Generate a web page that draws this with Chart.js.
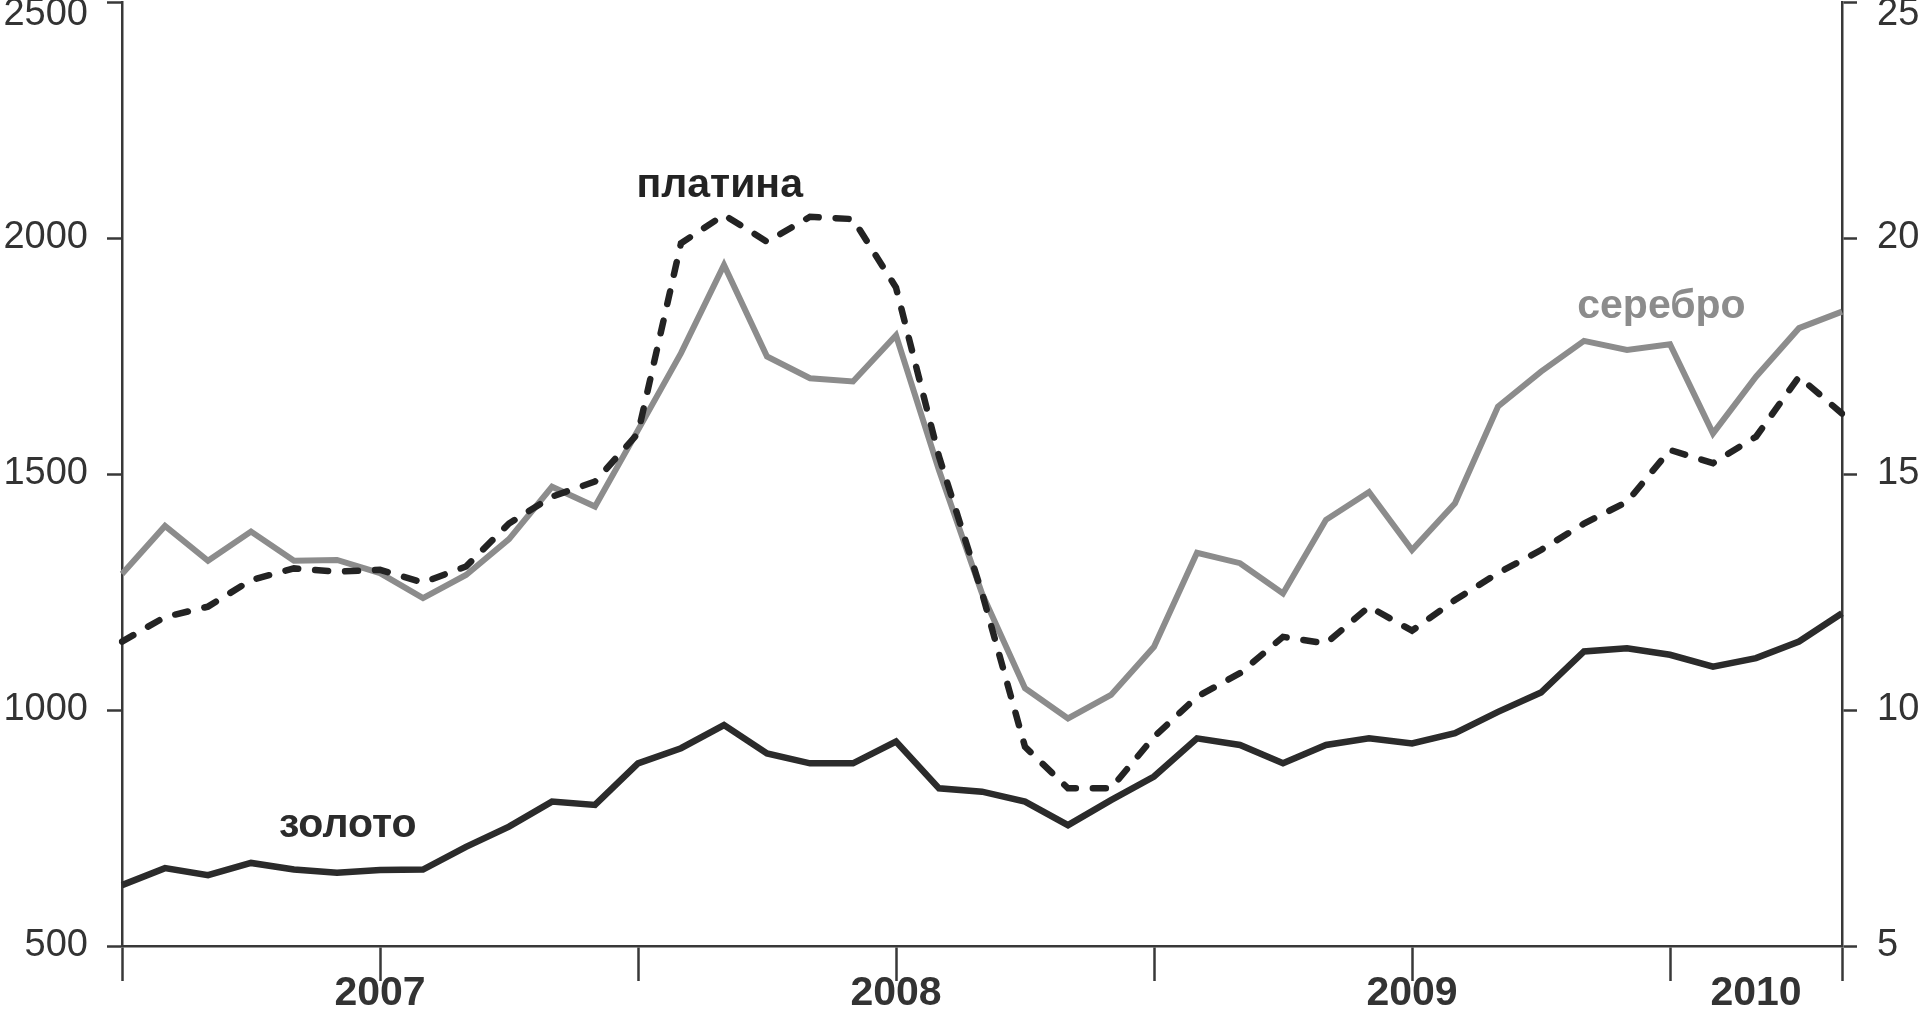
<!DOCTYPE html>
<html>
<head>
<meta charset="utf-8">
<script src="https://cdn.jsdelivr.net/npm/chart.js@4.4.1/dist/chart.umd.min.js"></script>
<style>
  html, body { margin: 0; padding: 0; background: #fff; }
  #wrap { width: 1920px; height: 1012px; position: relative; }
</style>
</head>
<body>
<div id="wrap"><canvas id="chart"></canvas></div>
<script>
// monthly averages, Jan 2007 - May 2010
const months = [
    "2007-01", "2007-02", "2007-03", "2007-04", "2007-05", "2007-06", "2007-07", "2007-08", "2007-09", "2007-10", "2007-11", "2007-12",
    "2008-01", "2008-02", "2008-03", "2008-04", "2008-05", "2008-06", "2008-07", "2008-08", "2008-09", "2008-10", "2008-11", "2008-12",
    "2009-01", "2009-02", "2009-03", "2009-04", "2009-05", "2009-06", "2009-07", "2009-08", "2009-09", "2009-10", "2009-11", "2009-12",
    "2010-01", "2010-02", "2010-03", "2010-04", "2010-05",
];
// gold and platinum, left axis
const gold = [
    629, 665, 650, 676, 662, 655, 661, 662, 710, 753, 806, 799,
    887, 919, 968, 908, 887, 887, 933, 834, 827, 806, 756, 809,
    859, 940, 926, 887, 926, 940, 929, 951, 996, 1037, 1124, 1131,
    1117, 1092, 1110, 1145, 1205,
];
const platinum = [
    1145, 1197, 1219, 1275, 1300, 1293, 1297, 1270, 1304, 1395, 1452, 1484,
    1586, 1989, 2049, 1992, 2045, 2040, 1895, 1537, 1248, 922, 834, 834,
    943, 1028, 1078, 1155, 1141, 1219, 1168, 1233, 1290, 1339, 1395, 1441,
    1551, 1523, 1579, 1706, 1628,
];
// silver, right axis
const silver = [
    12.88, 13.9, 13.16, 13.78, 13.16, 13.18, 12.9, 12.37, 12.86, 13.62, 14.73, 14.31,
    15.93, 17.56, 19.43, 17.49, 17.03, 16.96, 17.94, 15.08, 12.47, 10.46, 9.82, 10.32,
    11.34, 13.33, 13.11, 12.47, 14.03, 14.62, 13.39, 14.38, 16.43, 17.17, 17.82, 17.63,
    17.75, 15.86, 17.06, 18.09, 18.44,
];
const leftTicks = [500, 1000, 1500, 2000, 2500];
const rightTicks = [5, 10, 15, 20, 25];
const yearTickIndex = [6, 18, 30, 38];
const yearTickText = ["2007", "2008", "2009", "2010"];
const xTickMarks = [0, 6, 12, 18, 24, 30, 36, 40];
const seriesNames = ["золото", "платина", "серебро"];

const FONT = '"Liberation Sans", Arial, sans-serif';
const axisColor = "#383838";
const textColor = "#333333";
const goldColor = "#2b2b2b";
const platColor = "#232323";
const silverColor = "#8c8c8c";

// where the series names sit: [category index, value, axis]
const nameAnchors = [
    { idx: 5.25, value: 731, axis: "y", color: goldColor },
    { idx: 13.9, value: 2087, axis: "y", color: platColor },
    { idx: 35.8, value: 18.3, axis: "y1", color: silverColor },
];

const extras = {
    id: "extras",
    afterDraw(chart) {
        const ctx = chart.ctx;
        const x = chart.scales.x;
        ctx.save();
        // top tick labels pushed inside the canvas
        ctx.font = "38px " + FONT;
        ctx.fillStyle = textColor;
        ctx.textBaseline = "top";
        const yl = chart.scales.y;
        const yr = chart.scales.y1;
        const top = Math.max(yl.getPixelForValue(leftTicks[leftTicks.length - 1]) - 18, -4);
        ctx.textAlign = "right";
        ctx.fillText(String(leftTicks[leftTicks.length - 1]), yl.right - 15 - 19, top);
        ctx.textAlign = "left";
        ctx.fillText(String(rightTicks[rightTicks.length - 1]), yr.left + 15 + 20, top);

        // series names
        ctx.font = "bold 41px " + FONT;
        ctx.textAlign = "center";
        ctx.textBaseline = "alphabetic";
        nameAnchors.forEach((a, i) => {
            ctx.fillStyle = a.color;
            ctx.fillText(seriesNames[i], x.getPixelForValue(a.idx), chart.scales[a.axis].getPixelForValue(a.value));
        });
        ctx.restore();
    },
};

const chartData = {
    labels: months,
    datasets: [
        {
            label: seriesNames[0],
            data: gold,
            yAxisID: "y",
            borderColor: goldColor,
            borderWidth: 6.5,
            pointRadius: 0,
            tension: 0,
        },
        {
            label: seriesNames[1],
            data: platinum,
            yAxisID: "y",
            borderColor: platColor,
            borderWidth: 6.5,
            borderDash: [13, 17],
            borderCapStyle: "round",
            pointRadius: 0,
            tension: 0,
        },
        {
            label: seriesNames[2],
            data: silver,
            yAxisID: "y1",
            borderColor: silverColor,
            borderWidth: 6,
            pointRadius: 0,
            tension: 0,
        },
    ],
};

const chartOptions = {
    responsive: true,
    maintainAspectRatio: false,
    animation: false,
    layout: { padding: { top: 2, left: 0, right: 0, bottom: 0 } },
    plugins: {
        legend: { display: false },
        tooltip: { enabled: false },
    },
    scales: {
        x: {
            type: "category",
            offset: false,
            border: { display: true, color: axisColor, width: 2.5 },
            grid: {
                drawOnChartArea: false,
                drawTicks: true,
                tickLength: 35,
                tickWidth: 2.5,
                tickColor: (c) => (xTickMarks.includes(c.index) ? axisColor : "rgba(0,0,0,0)"),
            },
            ticks: {
                autoSkip: false,
                maxRotation: 0,
                padding: -12,
                color: textColor,
                font: { family: FONT, size: 41, weight: "bold" },
                callback: (value, index) => {
                    const k = yearTickIndex.indexOf(index);
                    return k >= 0 ? yearTickText[k] : "";
                },
            },
            afterFit: (scale) => {
                scale.height = 66;
                scale.paddingLeft = 0;
                scale.paddingRight = 0;
            },
        },
        y: {
            position: "left",
            min: leftTicks[0],
            max: leftTicks[leftTicks.length - 1],
            afterBuildTicks: (scale) => {
                scale.ticks = leftTicks.map((v) => ({ value: v }));
            },
            border: { display: true, color: axisColor, width: 2.5 },
            grid: {
                drawOnChartArea: false,
                tickLength: 15,
                tickWidth: 2.5,
                tickColor: axisColor,
            },
            ticks: {
                padding: 19,
                color: textColor,
                font: { family: FONT, size: 38 },
                callback: (v) => (v === leftTicks[leftTicks.length - 1] ? "" : String(v)),
            },
            afterFit: (scale) => {
                scale.width = 122;
                scale.paddingTop = 0;
                scale.paddingBottom = 0;
            },
        },
        y1: {
            position: "right",
            min: rightTicks[0],
            max: rightTicks[rightTicks.length - 1],
            afterBuildTicks: (scale) => {
                scale.ticks = rightTicks.map((v) => ({ value: v }));
            },
            border: { display: true, color: axisColor, width: 2.5 },
            grid: {
                drawOnChartArea: false,
                tickLength: 15,
                tickWidth: 2.5,
                tickColor: axisColor,
            },
            ticks: {
                padding: 20,
                color: textColor,
                font: { family: FONT, size: 38 },
                callback: (v) => (v === rightTicks[rightTicks.length - 1] ? "" : String(v)),
            },
            afterFit: (scale) => {
                scale.width = 78;
                scale.paddingTop = 0;
                scale.paddingBottom = 0;
            },
        },
    },
};

window.metalsChart = new Chart(document.getElementById("chart"), {
    type: "line",
    data: chartData,
    options: chartOptions,
    plugins: [extras],
});
</script>
</body>
</html>
